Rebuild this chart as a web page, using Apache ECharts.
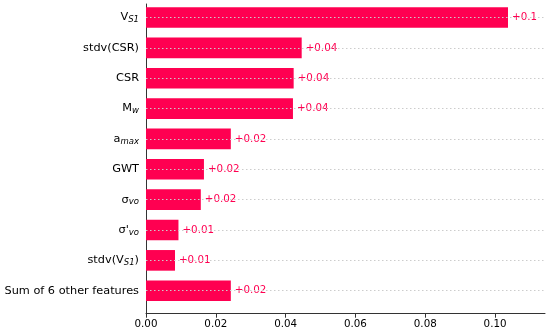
<!DOCTYPE html>
<html>
<head>
<meta charset="utf-8">
<script src="https://cdn.jsdelivr.net/npm/echarts@6/dist/echarts.min.js"></script>
<style>html,body{margin:0;padding:0;background:#fff}#c{width:550px;height:334px}</style>
</head>
<body>
<div id="c"></div>
<script>
// Feature names (subscripts written as _{...})
const categories = ['V_{S1}', 'stdv(CSR)', 'CSR', 'M_{w}', 'a_{max}', 'GWT', 'σ_{vo}', "σ'_{vo}", 'stdv(V_{S1})', 'Sum of 6 other features'];
// Mean |SHAP value| per feature
const values = [0.1037, 0.0446, 0.0423, 0.0421, 0.0243, 0.0166, 0.0157, 0.0093, 0.0083, 0.0243];
// X axis ticks
const tickValues = [0, 0.02, 0.04, 0.06, 0.08, 0.10];
const xMax = 0.1143;

const RED = '#ff0051';
const FONT = 'DejaVu Sans';

function fmtLabel(v) {
  let s = v.toFixed(2).replace(/0+$/, '').replace(/\.$/, '');
  return '+' + s;
}
function richName(name) {
  return name.replace(/_\{([^}]*)\}/g, '{s|$1}');
}

const chart = echarts.init(document.getElementById('c'), null, {renderer: 'canvas'});
chart.setOption({
  animation: false,
  backgroundColor: '#fff',
  grid: [
    {left: 146, right: 5, top: 2.3, bottom: 28.1, containLabel: false},
    {left: 146, right: 5, top: 4, bottom: 20.3, containLabel: false}
  ],
  xAxis: [
    {gridIndex: 0, type: 'value', min: 0, max: xMax, show: false, splitLine: {show: false}},
    {gridIndex: 1, type: 'value', min: 0, max: xMax,
      axisLine: {show: true, lineStyle: {color: '#333', width: 1}},
      axisTick: {show: true, length: 4, lineStyle: {color: '#333'}, customValues: tickValues},
      axisLabel: {show: true, customValues: tickValues, color: '#000', fontFamily: FONT, fontSize: 10.3, margin: 6,
        formatter: v => v.toFixed(2)},
      splitLine: {show: false}}
  ],
  yAxis: [
    {gridIndex: 0, type: 'category', data: categories, inverse: true,
      axisLine: {show: false}, axisTick: {show: false},
      axisLabel: {color: '#000', fontFamily: FONT, fontSize: 11.3, margin: 7,
        formatter: v => richName(v),
        rich: {s: {fontSize: 8.5, fontStyle: 'italic', fontFamily: FONT, color: '#000', padding: [5, 0, 0, 0]}}}},
    {gridIndex: 1, type: 'value', min: 0, max: 1,
      axisLine: {show: true, lineStyle: {color: '#333', width: 1}},
      axisTick: {show: false}, axisLabel: {show: false}, splitLine: {show: false}}
  ],
  series: [
    {type: 'line', xAxisIndex: 0, yAxisIndex: 0, data: [], z: 1, symbol: 'none',
      markLine: {silent: true, symbol: 'none', label: {show: false},
        lineStyle: {color: '#cccccc', type: [1.5, 2.5], width: 1},
        data: categories.map(c => ({yAxis: c}))}},
    {type: 'bar', xAxisIndex: 0, yAxisIndex: 0, data: values, z: 2,
      barCategoryGap: '32%',
      itemStyle: {color: RED},
      label: {show: true, position: 'right', distance: 4, color: RED, fontFamily: FONT, fontSize: 10.3,
        formatter: p => fmtLabel(p.value)}}
  ]
});
</script>
</body>
</html>
